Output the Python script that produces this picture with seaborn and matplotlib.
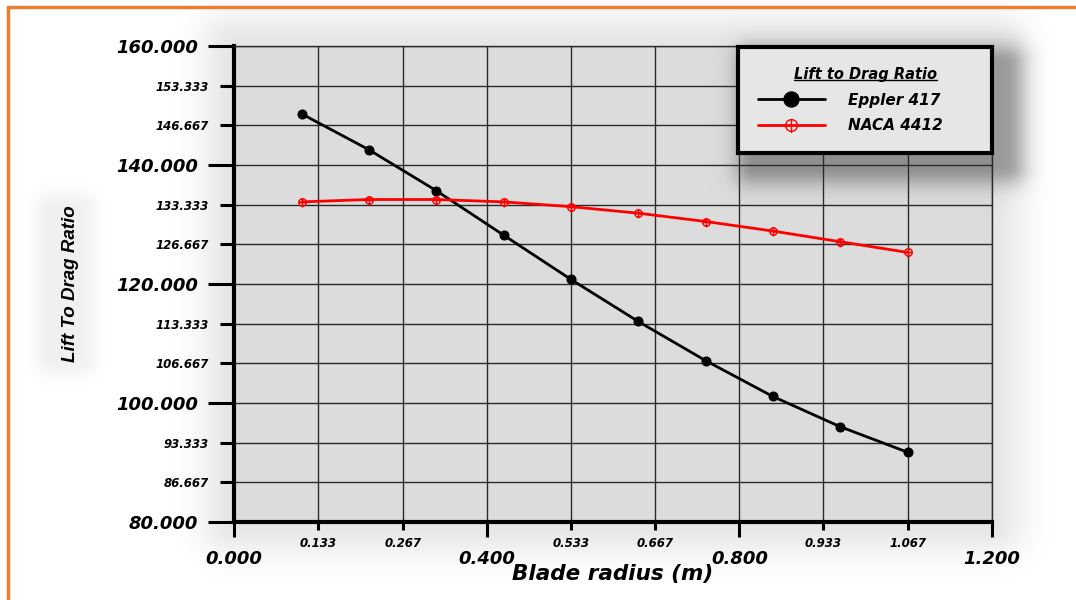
import numpy as np
import pandas as pd
import matplotlib.pyplot as plt
import seaborn as sns
from matplotlib.lines import Line2D
from matplotlib.path import Path

# values
radius = [0.107, 0.213, 0.320, 0.427, 0.533, 0.640, 0.747, 0.853, 0.960, 1.067]
eppler_417 = [148.6, 142.6, 135.7, 128.2, 120.8, 113.7, 107.1, 101.1, 96.0, 91.7]
naca_4412 = [133.8, 134.2, 134.2, 133.8, 133.0, 131.9, 130.5, 128.9, 127.1, 125.3]

y_major = [80, 100, 120, 140, 160]
y_minor = [86.667, 93.333, 106.667, 113.333, 126.667, 133.333, 146.667, 153.333]
x_major = [0.0, 0.4, 0.8, 1.2]
x_minor = [0.133, 0.267, 0.533, 0.667, 0.933, 1.067]

df = pd.DataFrame({"radius": radius, "Eppler 417": eppler_417, "NACA 4412": naca_4412})

sns.set_theme(style="white")
plt.rcParams["font.family"] = ["DejaVu Sans"]
for key in ["text.color", "axes.labelcolor", "xtick.color", "ytick.color"]:
    plt.rcParams[key] = "black"

W, H = 1076, 600
fig = plt.figure(figsize=(W / 100, H / 100), dpi=100)
fig.patch.set_facecolor("white")

# soft drop-shadow background (decoration only)
ax_px = (234, 46, 992, 522)
leg_px = (738, 47, 992, 150)
yy, xx = np.mgrid[0:H, 0:W] + 0.5


def rect_dist(x0, y0, x1, y1):
    dx = np.maximum(np.maximum(x0 - xx, 0), xx - x1)
    dy = np.maximum(np.maximum(y0 - yy, 0), yy - y1)
    return np.hypot(dx, dy)


d_ax = rect_dist(*ax_px)
shade = np.where(d_ax == 0, 0.14, 0.10 * np.exp(-(d_ax / 34.0) ** 2))
d_sh = rect_dist(leg_px[0] + 16, leg_px[1] + 16, leg_px[2] + 16, leg_px[3] + 16)
shade = shade + 0.30 * np.exp(-(d_sh / 20.0) ** 2)
d_lab = rect_dist(52, 210, 80, 358)
shade = shade + 0.06 * np.exp(-(d_lab / 18.0) ** 2)
bg = fig.add_axes([0, 0, 1, 1], zorder=-5)
bg.imshow(1 - np.clip(shade, 0, 0.6), cmap="gray", vmin=0, vmax=1, aspect="auto", interpolation="bilinear")
bg.set_axis_off()

ax = fig.add_axes([ax_px[0] / W, 1 - ax_px[3] / H, (ax_px[2] - ax_px[0]) / W, (ax_px[3] - ax_px[1]) / H])
ax.set_facecolor("none")

circ_cross = Path.make_compound_path(
    Path.unit_circle(),
    Path([[-1.0, 0.0], [1.0, 0.0]]),
    Path([[0.0, -1.3], [0.0, 1.0]]),
)

sns.lineplot(data=df, x="radius", y="Eppler 417", ax=ax, color="black", lw=2, marker="o",
             markersize=6.5, markeredgecolor="black", label="Eppler 417")
sns.lineplot(data=df, x="radius", y="NACA 4412", ax=ax, color="red", lw=2, marker=circ_cross,
             markersize=7, markerfacecolor="none", markeredgecolor="red", markeredgewidth=1,
             label="NACA 4412")

ax.set_xlim(0, 1.2)
ax.set_ylim(80, 160)

bi = dict(fontweight="bold", fontstyle="italic")
ax.set_yticks(y_major, labels=[f"{v:.3f}" for v in y_major], fontsize=13, **bi)
ax.set_yticks(y_minor, labels=[f"{v:.3f}" for v in y_minor], minor=True, fontsize=8.5, **bi)
ax.set_xticks(x_major, labels=[f"{v:.3f}" for v in x_major], fontsize=13, **bi)
ax.set_xticks(x_minor, labels=[f"{v:.3f}" for v in x_minor], minor=True, fontsize=8.5, **bi)

ax.tick_params(axis="y", which="major", length=19, width=2.2, pad=7, color="black", left=True)
ax.tick_params(axis="y", which="minor", length=10, width=2.2, pad=8, color="black", left=True)
ax.tick_params(axis="x", which="major", length=11, width=2.2, pad=9, color="black", bottom=True)
ax.tick_params(axis="x", which="minor", length=6, width=2.2, pad=5, color="black", bottom=True)

ax.grid(True, which="both", color="#2a2a2a", lw=1)
ax.set_axisbelow(True)
for side in ["left", "bottom"]:
    ax.spines[side].set_linewidth(3)
    ax.spines[side].set_color("black")
for side in ["top", "right"]:
    ax.spines[side].set_linewidth(1)
    ax.spines[side].set_color("#2a2a2a")

ax.set_xlabel("Blade radius (m)", fontsize=15.5, **bi)
ax.xaxis.set_label_coords(0.5, -0.088)
ax.set_ylabel("Lift To Drag Ratio", fontsize=13.5, fontweight="bold", fontstyle="italic",
              family=["Liberation Sans", "DejaVu Sans"])
ax.yaxis.set_label_coords(-0.205, 0.5)

lw_px = leg_px[2] - leg_px[0]
leg = ax.legend(
    loc="upper left",
    bbox_to_anchor=(leg_px[0] / W, 1 - leg_px[1] / H, lw_px / W, 0),
    bbox_transform=fig.transFigure,
    mode="expand",
    borderaxespad=0,
    title="Lift to Drag Ratio",
    prop=dict(weight="bold", style="italic", size=11),
    title_fontproperties=dict(weight="bold", style="italic", size=10.5),
    frameon=True,
    fancybox=False,
    framealpha=1,
    facecolor="#e6e6e6",
    edgecolor="black",
    handlelength=4.4,
    handletextpad=1.5,
    borderpad=1.3,
    labelspacing=0.7,
)
leg.get_frame().set_linewidth(3)
hs = leg.legend_handles
hs[0].set_markersize(11)
hs[1].set_markersize(11)

# underline the legend title and draw the orange frame
fig.canvas.draw()
bb = leg.get_title().get_window_extent()
inv = fig.transFigure.inverted()
(x0, y0), (x1, _) = inv.transform([[bb.x0, bb.y0 + 2], [bb.x1, bb.y0 + 2]])
fig.add_artist(Line2D([x0, x1], [y0, y0], transform=fig.transFigure, color="black", lw=1))

orange = "#ED7D31"
fig.add_artist(Line2D([8 / W, 1], [1 - 7 / H, 1 - 7 / H], transform=fig.transFigure, color=orange, lw=2.5))
fig.add_artist(Line2D([8 / W, 8 / W], [0, 1 - 7 / H], transform=fig.transFigure, color=orange, lw=2.5))

fig.savefig("out.png", dpi=100)
